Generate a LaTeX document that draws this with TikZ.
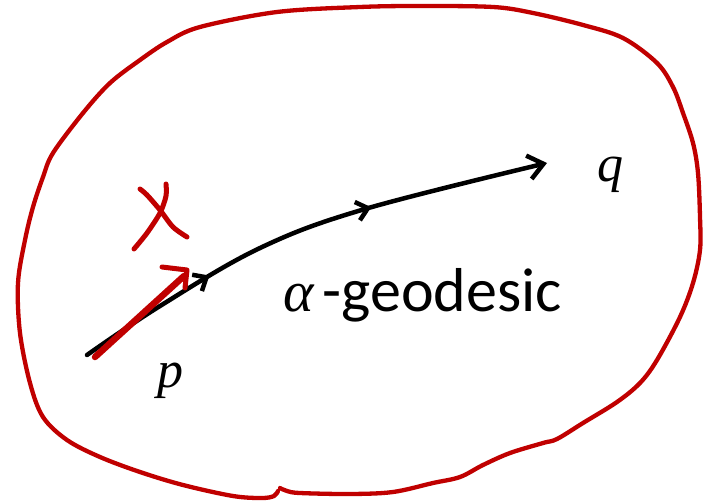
\documentclass[tikz,border=0pt]{standalone}
\usepackage{fontspec}
\setmainfont{Liberation Serif}
\newfontfamily\calib{Carlito}
\usetikzlibrary{arrows.meta,decorations.markings}
\definecolor{pptred}{RGB}{192,0,0}
\begin{document}
\begin{tikzpicture}[x=1pt,y=-1pt,
  redline/.style={draw=pptred, line width=4.3pt, line cap=round, line join=round},
  redthick/.style={draw=pptred, line width=6.5pt, line cap=round, line join=round},
  geoline/.style={draw=black, line width=4.5pt, line cap=round, line join=round},
  lbl/.style={font=\fontsize{52}{52}\selectfont\itshape, inner sep=0pt}
]
\useasboundingbox (0,0) rectangle (708,503);

% red hand-drawn region
\draw[redline] plot[smooth, tension=0.55] coordinates {
 (280,488) (287,491) (300,493) (350,494) (393,492) (433,483) (460,477) (483,465)
 (510,453) (543,443) (557,439) (583,423) (617,402) (640,383) (657,360) (680,317)
 (693,283) (700,250) (700,217) (698,173) (693,143) (683,113) (673,87) (657,63)
 (623,38) (583,25) (533,13) (493,7) (420,6) (360,7) (277,12) (200,27) (167,42)
 (140,60) (110,83) (83,113) (53,153) (43,177) (33,207) (25,240) (18,283) (20,333)
 (30,383) (43,417) (67,440) (100,457) (140,472) (183,485) (233,496) (262,498)
 (274,496) (278,491)};

% geodesic
\coordinate (P) at (87,355);
\coordinate (A) at (160,306);
\coordinate (B) at (260,248);
\coordinate (C) at (365,209);
\coordinate (Q) at (547,163);
\draw[geoline, -{Straight Barb[length=15pt,width=24pt]},
  postaction={decorate, decoration={markings,
    mark=at position 0.29 with {\arrow{Straight Barb[length=11pt,width=19pt]}},
    mark=at position 0.64 with {\arrow{Straight Barb[length=11pt,width=19pt]}}}}]
  plot[smooth, tension=0.6] coordinates {(P) (A) (B) (C) (Q)};

% labels
\node[lbl, anchor=base] (plabel) at (170,387) {p};
\node[lbl, anchor=base] (qlabel) at (610,181) {q};
\node[inner sep=0pt, anchor=base west] (geo) at (283,311)
  {{\fontsize{58}{58}\selectfont\itshape α}\hspace{9pt}{\calib\fontsize{62}{62}\selectfont -geodesic}};

% red vector X
\coordinate (r0) at (95,357);
\coordinate (r1) at (184,276);
\draw[redthick] (r0) -- (r1);
\draw[redline, line width=5pt] (162,267) -- (187,270) -- (185,288);
\draw[redline, line width=5pt] plot[smooth] coordinates {(140,189) (147,195) (160,210) (173,227) (187,237)};
\draw[redline, line width=5pt] plot[smooth] coordinates {(166,184) (166,196) (160,213) (147,233) (134,249)};
\end{tikzpicture}
\end{document}
